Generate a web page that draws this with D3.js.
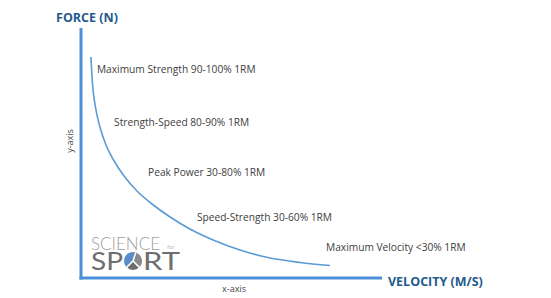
<!DOCTYPE html>
<html>
<head>
<meta charset="utf-8">
<script src="https://cdn.jsdelivr.net/npm/d3@7"></script>
<style>
  body { margin: 0; background: #fff; }
  svg { display: block; }
</style>
</head>
<body>
<svg width="551" height="298"></svg>
<script>
// Force-velocity curve (velocity %, force %)
const velocity = [3.3, 3.8, 4.8, 6.3, 8.3, 11, 14.3, 18.6, 23.6, 29.6, 36.2, 43.9, 52.8, 62.1, 72.8, 82.7];
const force = [88.4, 78, 68.4, 60.4, 53.2, 46.8, 40.8, 34.8, 29.6, 24.4, 19.6, 15.2, 11.2, 8.2, 6.2, 5];

// Zone labels and where they sit on the same scale
const zoneLabels = ["Maximum Strength 90-100% 1RM", "Strength-Speed 80-90% 1RM",
  "Peak Power 30-80% 1RM", "Speed-Strength 30-60% 1RM", "Maximum Velocity <30% 1RM"];
const zoneVelocity = [5.3, 11, 22.3, 38.5, 81.4];
const zoneForce = [83.6, 62.4, 42.4, 24.4, 12.4];

const svg = d3.select("svg"),
  width = +svg.attr("width"),
  height = +svg.attr("height");

const x = d3.scaleLinear().domain([0, 100]).range([81, 382]);
const y = d3.scaleLinear().domain([0, 100]).range([278, 28]);

const axisColor = "#4a8fd8";
const titleColor = "#245a8c";

// axes (plain lines, no ticks)
svg.append("line")
  .attr("x1", x(0)).attr("x2", x(0))
  .attr("y1", y(100)).attr("y2", y(0) + 1.5)
  .attr("stroke", axisColor).attr("stroke-width", 3);
svg.append("line")
  .attr("x1", x(0) - 1.5).attr("x2", x(100))
  .attr("y1", y(0)).attr("y2", y(0))
  .attr("stroke", axisColor).attr("stroke-width", 3);

// axis titles
svg.append("text")
  .attr("x", 87).attr("y", 22)
  .attr("text-anchor", "middle")
  .attr("font-family", "Open Sans, sans-serif")
  .attr("font-weight", 700).attr("font-size", 12.5)
  .attr("fill", titleColor)
  .text("FORCE (N)");
svg.append("text")
  .attr("x", 388).attr("y", 286)
  .attr("font-family", "Open Sans, sans-serif")
  .attr("font-weight", 700).attr("font-size", 12.5)
  .attr("fill", titleColor)
  .text("VELOCITY (M/S)");

svg.append("text")
  .attr("transform", "translate(73,141) rotate(-90)")
  .attr("text-anchor", "middle")
  .attr("font-family", "Open Sans, sans-serif")
  .attr("font-size", 9).attr("fill", "#444")
  .text("y-axis");
svg.append("text")
  .attr("x", 234).attr("y", 292)
  .attr("text-anchor", "middle")
  .attr("font-family", "Open Sans, sans-serif")
  .attr("font-size", 9).attr("fill", "#444")
  .text("x-axis");

// the curve
const pts = velocity.map((v, i) => [v, force[i]]);
svg.append("path")
  .datum(pts)
  .attr("fill", "none")
  .attr("stroke", "#5b9bd5")
  .attr("stroke-width", 1.6)
  .attr("d", d3.line()
    .x(d => x(d[0]))
    .y(d => y(d[1]))
    .curve(d3.curveMonotoneX));

// zone labels
svg.append("g")
  .selectAll("text")
  .data(zoneLabels)
  .join("text")
  .attr("x", (d, i) => x(zoneVelocity[i]))
  .attr("y", (d, i) => y(zoneForce[i]))
  .attr("dy", "0.35em")
  .attr("font-family", "Open Sans, sans-serif")
  .attr("font-size", 10.2)
  .attr("fill", "#404040")
  .text(d => d);

// logo
const logo = svg.append("g").attr("font-family", "Lato, sans-serif");
logo.append("text")
  .attr("x", 91).attr("y", 250)
  .attr("font-size", 18).attr("font-weight", 300)
  .attr("fill", "#a0a0a0")
  .attr("textLength", 69).attr("lengthAdjust", "spacingAndGlyphs")
  .text("SCIENCE");
logo.append("text")
  .attr("x", 167).attr("y", 249)
  .attr("font-size", 6)
  .attr("fill", "#c0c0c0")
  .text("for");
logo.append("text")
  .attr("x", 91).attr("y", 270)
  .attr("font-size", 25).attr("font-weight", 400)
  .attr("fill", "#6e6e6e")
  .attr("textLength", 32).attr("lengthAdjust", "spacingAndGlyphs")
  .text("SP");
logo.append("text")
  .attr("x", 143).attr("y", 270)
  .attr("font-size", 25).attr("font-weight", 400)
  .attr("fill", "#6e6e6e")
  .attr("textLength", 37).attr("lengthAdjust", "spacingAndGlyphs")
  .text("RT");

const ball = logo.append("g").attr("transform", "translate(133,261)");
const arc = d3.arc().innerRadius(0).outerRadius(9);
ball.append("path").attr("d", arc({startAngle: -Math.PI * 0.75, endAngle: Math.PI * 0.1})).attr("fill", "#5b8ec9");
ball.append("path").attr("d", arc({startAngle: Math.PI * 0.1, endAngle: Math.PI * 0.75})).attr("fill", "#8a8a8a");
ball.append("path").attr("d", arc({startAngle: Math.PI * 0.75, endAngle: Math.PI * 1.25})).attr("fill", "#6e6e6e");
ball.selectAll("line")
  .data([-0.75, 0.1, 0.75].map(a => a * Math.PI))
  .join("line")
  .attr("x1", 0).attr("y1", 0)
  .attr("x2", a => 9 * Math.sin(a)).attr("y2", a => -9 * Math.cos(a))
  .attr("stroke", "#fff").attr("stroke-width", 1.5);
</script>
</body>
</html>
